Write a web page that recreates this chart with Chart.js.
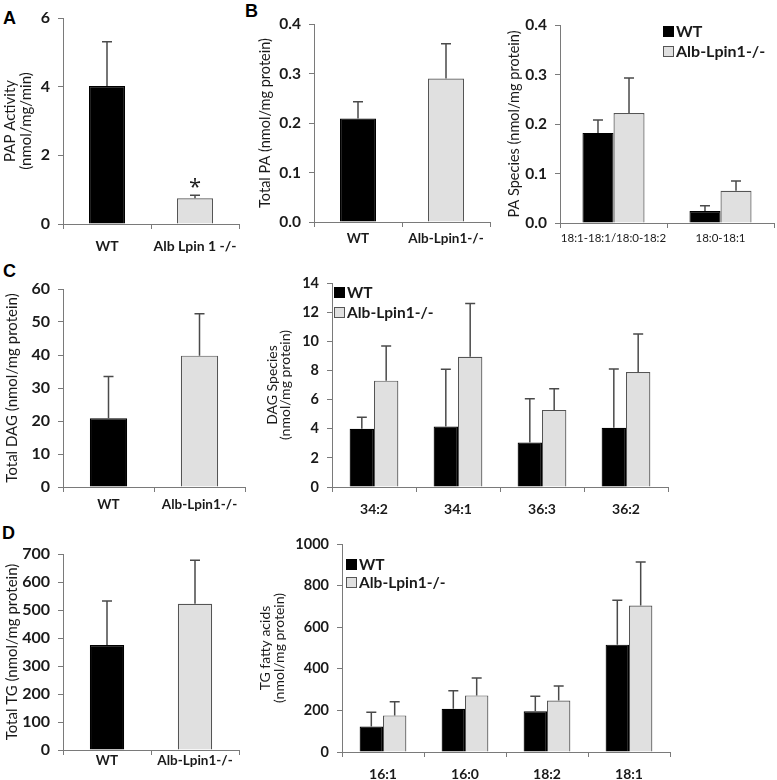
<!DOCTYPE html>
<html>
<head>
<meta charset="utf-8">
<script src="https://cdn.jsdelivr.net/npm/chart.js@4.4.0/dist/chart.umd.min.js"></script>
<style>
  body { margin: 0; background: #fff; width: 777px; height: 780px; position: relative; overflow: hidden; font-family: Lato, sans-serif; }
  canvas { position: absolute; }
  .letter { position: absolute; font: bold 18px "Liberation Sans", Arial, sans-serif; line-height: 18px; color: #000; }
  .leg { position: absolute; white-space: nowrap; color: #1a1a1a; font-weight: bold; }
  .leg i { position: absolute; left: 0; width: 9px; height: 9px; border: 1px solid #555; }
  .leg span { position: absolute; }
</style>
</head>
<body>
<div class="letter" style="left:3px;top:9px">A</div>
<div class="letter" style="left:245px;top:2px">B</div>
<div class="letter" style="left:3px;top:262px">C</div>
<div class="letter" style="left:2px;top:524px">D</div>

<canvas id="cA"></canvas>
<canvas id="cB1"></canvas>
<canvas id="cB2"></canvas>
<canvas id="cC1"></canvas>
<canvas id="cC2"></canvas>
<canvas id="cD1"></canvas>
<canvas id="cD2"></canvas>

<div id="legB2" class="leg"></div>
<div id="legC2" class="leg"></div>
<div id="legD2" class="leg"></div>

<script>
// ---- data ----
const groups = ["WT", "Alb-Lpin1-/-"];
const groupsA = ["WT", "Alb Lpin 1 -/-"];

const papMean = [4.02, 0.75];
const papErr = [5.31, 0.84];
const papMarks = ["", "*"];
const papTicks = [0, 2, 4, 6];

const paTotalMean = [0.209, 0.290];
const paTotalErr = [0.243, 0.360];
const paTicks = [0, 0.1, 0.2, 0.3, 0.4];
const paTickLabels = ["0.0", "0.1", "0.2", "0.3", "0.4"];

const paSpecies = ["18:1-18:1/18:0-18:2", "18:0-18:1"];
const paWT = [0.182, 0.024];
const paWTErr = [0.208, 0.035];
const paKO = [0.222, 0.065];
const paKOErr = [0.293, 0.085];

const dagTotalMean = [20.8, 39.8];
const dagTotalErr = [33.5, 52.5];
const dagTotalTicks = [0, 10, 20, 30, 40, 50, 60];

const dagSpecies = ["34:2", "34:1", "36:3", "36:2"];
const dagWT = [4.0, 4.15, 3.05, 4.07];
const dagWTErr = [4.78, 8.08, 6.05, 8.1];
const dagKO = [7.3, 8.94, 5.29, 7.89];
const dagKOErr = [9.68, 12.6, 6.75, 10.5];
const dagSpTicks = [0, 2, 4, 6, 8, 10, 12, 14];

const tgTotalMean = [375, 522];
const tgTotalErr = [532, 678];
const tgTotalTicks = [0, 100, 200, 300, 400, 500, 600, 700];

const tgAcids = ["16:1", "16:0", "18:2", "18:1"];
const tgWT = [122, 208, 196, 516];
const tgWTErr = [191, 295, 268, 729];
const tgKO = [176, 272, 247, 704];
const tgKOErr = [242, 356, 317, 913];
const tgFaTicks = [0, 200, 400, 600, 800, 1000];

// ---- styles ----
const AXIS = "#7a7a7a";
const TXT = "#1a1a1a";
const WT_FILL = "#000000";
const KO_FILL = "#e0e0e0";
const KO_EDGE = "#555555";
const FONT = "Lato";

// upper error whiskers + significance marks
const errorBars = {
  id: "errorBars",
  afterDatasetsDraw(chart) {
    const ctx = chart.ctx;
    const y = chart.scales.y;
    chart.data.datasets.forEach((ds, i) => {
      if (!ds.errTop) return;
      chart.getDatasetMeta(i).data.forEach((bar, j) => {
        const top = y.getPixelForValue(ds.errTop[j]);
        ctx.save();
        ctx.strokeStyle = "#4a4a4a";
        ctx.lineWidth = 1.5;
        ctx.beginPath();
        ctx.moveTo(bar.x, bar.y);
        ctx.lineTo(bar.x, top);
        ctx.moveTo(bar.x - 5, top);
        ctx.lineTo(bar.x + 5, top);
        ctx.stroke();
        if (ds.marks && ds.marks[j]) {
          ctx.fillStyle = TXT;
          ctx.font = "22px 'Open Sans'";
          ctx.textAlign = "center";
          ctx.textBaseline = "alphabetic";
          ctx.fillText(ds.marks[j], bar.x, top - 1);
        }
        ctx.restore();
      });
    });
  }
};

function makePanel(id, box, plot, cfg) {
  const cv = document.getElementById(id);
  cv.width = box.w;
  cv.height = box.h;
  cv.style.left = box.x + "px";
  cv.style.top = box.y + "px";
  const lh = cfg.titleSize * cfg.titleLH;
  new Chart(cv, {
    type: "bar",
    data: { labels: cfg.labels, datasets: cfg.datasets },
    options: {
      responsive: false,
      animation: false,
      devicePixelRatio: 1,
      layout: { padding: { left: 0, top: plot.top - box.y, right: box.x + box.w - plot.right, bottom: 0 } },
      plugins: { legend: { display: false }, tooltip: { enabled: false } },
      datasets: { bar: { categoryPercentage: cfg.cat, barPercentage: 1 } },
      scales: {
        x: {
          grid: { offset: true, drawOnChartArea: false, drawTicks: true, tickLength: 5, color: AXIS },
          border: { color: AXIS, width: 1 },
          ticks: { color: TXT, font: cfg.xFont, padding: cfg.xPad, maxRotation: 0, autoSkip: false },
          afterFit: (s) => { s.height = box.y + box.h - plot.bottom; }
        },
        y: {
          min: cfg.ticks[0],
          max: cfg.ticks[cfg.ticks.length - 1],
          afterBuildTicks: (s) => { s.ticks = cfg.ticks.map((v) => ({ value: v })); },
          grid: { drawOnChartArea: false, drawTicks: true, tickLength: 5, color: AXIS },
          border: { color: AXIS, width: 1 },
          ticks: {
            color: TXT,
            font: { family: FONT, size: cfg.ySize || 15, weight: "bold" },
            padding: 8,
            callback: (v, i) => (cfg.tickLabels ? cfg.tickLabels[i] : String(cfg.ticks[i]))
          },
          title: {
            display: true,
            text: cfg.title,
            color: TXT,
            font: { family: FONT, size: cfg.titleSize, weight: cfg.titleWeight || "normal", lineHeight: cfg.titleLH },
            padding: { top: cfg.titleX - box.x - lh / 2, bottom: 0 }
          },
          afterFit: (s) => { s.width = plot.left - box.x; }
        }
      }
    },
    plugins: [errorBars]
  });
}

function pairSet(mean, err, marks) {
  return [{
    data: mean,
    errTop: err,
    marks: marks,
    backgroundColor: [WT_FILL, KO_FILL],
    borderColor: [WT_FILL, KO_EDGE],
    borderWidth: 1.2
  }];
}

function groupSets(wt, wtErr, ko, koErr) {
  return [
    { label: groups[0], data: wt, errTop: wtErr, backgroundColor: WT_FILL, borderColor: WT_FILL, borderWidth: 1.2 },
    { label: groups[1], data: ko, errTop: koErr, backgroundColor: KO_FILL, borderColor: KO_EDGE, borderWidth: 1.2 }
  ];
}

const singleX = { family: FONT, size: 13.5, weight: "bold" };

// A
makePanel("cA", { x: 0, y: 0, w: 250, h: 258 }, { left: 63, top: 18, right: 239, bottom: 224 }, {
  labels: groupsA, datasets: pairSet(papMean, papErr, papMarks), cat: 0.41,
  ticks: papTicks, title: ["PAP Activity", "(nmol/mg/min)"], titleSize: 15, titleLH: 1.1, titleX: 10,
  xFont: { family: FONT, size: 14, weight: "bold" }, xPad: 9, ySize: 16
});

// B total PA
makePanel("cB1", { x: 250, y: 0, w: 250, h: 258 }, { left: 314, top: 24, right: 490, bottom: 222 }, {
  labels: groups, datasets: pairSet(paTotalMean, paTotalErr), cat: 0.41,
  ticks: paTicks, tickLabels: paTickLabels, title: "Total PA (nmol/mg protein)", titleSize: 14.5, titleLH: 1.2, titleX: 265,
  xFont: singleX, xPad: 4, ySize: 15.5
});

// B PA species
makePanel("cB2", { x: 500, y: 0, w: 277, h: 258 }, { left: 560, top: 25, right: 774, bottom: 223 }, {
  labels: paSpecies, datasets: groupSets(paWT, paWTErr, paKO, paKOErr), cat: 0.58,
  ticks: paTicks, tickLabels: paTickLabels, title: "PA Species (nmol/mg protein)", titleSize: 14.5, titleLH: 1.2, titleX: 514,
  xFont: { family: FONT, size: 11.5, weight: "normal" }, xPad: 3, ySize: 15.5
});

// C total DAG
makePanel("cC1", { x: 0, y: 258, w: 255, h: 262 }, { left: 63, top: 289, right: 245, bottom: 487 }, {
  labels: groups, datasets: pairSet(dagTotalMean, dagTotalErr), cat: 0.41,
  ticks: dagTotalTicks, title: "Total DAG (nmol/mg protein)", titleSize: 15, titleLH: 1.2, titleX: 12,
  xFont: singleX, xPad: 5, ySize: 16
});

// C DAG species
makePanel("cC2", { x: 255, y: 258, w: 522, h: 262 }, { left: 332, top: 283, right: 668, bottom: 487 }, {
  labels: dagSpecies, datasets: groupSets(dagWT, dagWTErr, dagKO, dagKOErr), cat: 0.58,
  ticks: dagSpTicks, title: ["DAG Species", "(nmol/mg protein)"], titleSize: 14, titleLH: 0.95, titleX: 272,
  xFont: { family: FONT, size: 14, weight: "bold" }, xPad: 9, ySize: 14.5
});

// D total TG
makePanel("cD1", { x: 0, y: 520, w: 255, h: 260 }, { left: 63, top: 554, right: 239, bottom: 750 }, {
  labels: groups, datasets: pairSet(tgTotalMean, tgTotalErr), cat: 0.39,
  ticks: tgTotalTicks, title: "Total TG (nmol/mg protein)", titleSize: 15, titleLH: 1.2, titleX: 12,
  xFont: singleX, xPad: -2, ySize: 16
});

// D TG fatty acids
makePanel("cD2", { x: 255, y: 520, w: 522, h: 260 }, { left: 342, top: 544, right: 670, bottom: 752 }, {
  labels: tgAcids, datasets: groupSets(tgWT, tgWTErr, tgKO, tgKOErr), cat: 0.57,
  ticks: tgFaTicks, title: ["TG fatty acids", "(nmol/mg protein)"], titleSize: 14, titleLH: 1.07, titleX: 265,
  xFont: { family: FONT, size: 14, weight: "bold" }, xPad: 9, ySize: 14.5
});

// legends
function legend(id, x, y, gap, size) {
  const el = document.getElementById(id);
  el.style.left = x + "px";
  el.style.top = y + "px";
  el.style.fontSize = size + "px";
  const fills = [WT_FILL, KO_FILL];
  groups.forEach((g, i) => {
    const box = document.createElement("i");
    box.style.top = (i * gap) + "px";
    box.style.background = fills[i];
    box.style.borderColor = i ? KO_EDGE : WT_FILL;
    const t = document.createElement("span");
    t.textContent = g;
    t.style.left = "13px";
    t.style.top = (i * gap + 5 - size * 0.6) + "px";
    t.style.lineHeight = (size * 1.2) + "px";
    el.appendChild(box);
    el.appendChild(t);
  });
}
legend("legB2", 663, 26, 20, 16);
legend("legC2", 334, 287, 20, 15.5);
legend("legD2", 346, 559, 18, 15.5);
</script>
</body>
</html>
